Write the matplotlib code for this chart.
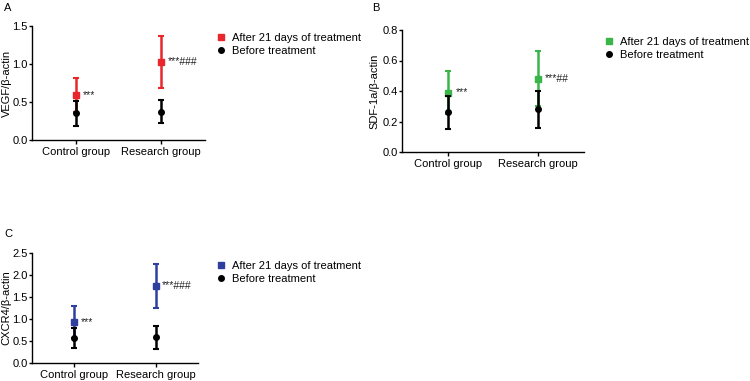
import matplotlib
matplotlib.use("Agg")
import matplotlib.pyplot as plt
from matplotlib.lines import Line2D

plt.rcParams["font.family"] = ["Liberation Sans", "DejaVu Sans"]

groups = ["Control group", "Research group"]

vegf_after = [0.59, 1.03]
vegf_after_err = [0.22, 0.34]
vegf_before = [0.35, 0.37]
vegf_before_err = [0.16, 0.15]

sdf_after = [0.39, 0.48]
sdf_after_err = [0.14, 0.18]
sdf_before = [0.26, 0.28]
sdf_before_err = [0.11, 0.12]

cxcr_after = [0.93, 1.75]
cxcr_after_err = [0.37, 0.49]
cxcr_before = [0.56, 0.58]
cxcr_before_err = [0.23, 0.27]

marks = [["***", "***###"], ["***", "***##"], ["***", "***###"]]

W, H = 750, 381
fig = plt.figure(figsize=(W / 100, H / 100), dpi=100)


def px_axes(left, right, top, bottom):
    return fig.add_axes([left / W, 1 - bottom / H, (right - left) / W, (bottom - top) / H])


def panel(box, after, aerr, before, berr, color, ylabel, ylabel_x, ymax, yticks, ylabels,
          letter, letter_xy, legend_xy, stars):
    ax = px_axes(*box)
    x = [0, 1]
    ax.errorbar(x, after, yerr=aerr, fmt="s", color=color, ms=4, elinewidth=1.8,
                capsize=2.5, capthick=1.5, zorder=2)
    ax.errorbar(x, before, yerr=berr, fmt="o", color="black", ms=4, elinewidth=1.8,
                capsize=2.5, capthick=1.5, zorder=3)
    for i in range(2):
        ax.text(x[i] + 0.08, after[i], stars[i], fontsize=7.5, va="center", ha="left",
                color="#222222")
    ax.set_xlim(-0.52, 1.52)
    ax.set_ylim(0, ymax)
    ax.set_xticks(x)
    ax.set_xticklabels(groups, fontsize=8)
    ax.set_yticks(yticks)
    ax.set_yticklabels(ylabels, fontsize=8)
    ax.tick_params(axis="y", length=2.2, width=1, pad=1)
    ax.tick_params(axis="x", length=3, width=1, pad=2)
    ax.spines[["top", "right"]].set_visible(False)
    ax.spines[["left", "bottom"]].set_linewidth(1)
    # y label placed in figure pixels so it is not clipped at the edge
    cy = 1 - (box[2] + box[3]) / 2 / H
    fig.text(ylabel_x / W, cy, ylabel, fontsize=8, rotation=90, ha="center", va="center")
    fig.text(letter_xy[0] / W, 1 - letter_xy[1] / H, letter, fontsize=8, va="top")
    handles = [
        Line2D([], [], marker="s", color=color, ls="none", ms=4),
        Line2D([], [], marker="o", color="black", ls="none", ms=4),
    ]
    ax.legend(handles, ["After 21 days of treatment", "Before treatment"],
              loc="upper left", bbox_to_anchor=(legend_xy[0] / W, 1 - legend_xy[1] / H),
              bbox_transform=fig.transFigure, frameon=False, fontsize=8,
              handletextpad=0.5, handlelength=1.0, labelspacing=0.3, borderpad=0)
    return ax


panel((32, 205, 26, 140), vegf_after, vegf_after_err, vegf_before, vegf_before_err,
      "#e8262b", "VEGF/β-actin", 6.5, 1.5, [0, 0.5, 1.0, 1.5], ["0.0", "0.5", "1.0", "1.5"],
      "A", (4, 3), (210, 27), marks[0])
panel((402, 584, 30, 152), sdf_after, sdf_after_err, sdf_before, sdf_before_err,
      "#39b54a", "SDF-1a/β-actin", 374, 0.8, [0, 0.2, 0.4, 0.6, 0.8],
      ["0.0", "0.2", "0.4", "0.6", "0.8"], "B", (372, 3), (598, 31), marks[1])
panel((32, 198, 253, 363), cxcr_after, cxcr_after_err, cxcr_before, cxcr_before_err,
      "#2e3f9e", "CXCR4/β-actin", 6.5, 2.5, [0, 0.5, 1.0, 1.5, 2.0, 2.5],
      ["0.0", "0.5", "1.0", "1.5", "2.0", "2.5"], "C", (4, 229), (210, 255), marks[2])

fig.savefig("out.png", dpi=100)
